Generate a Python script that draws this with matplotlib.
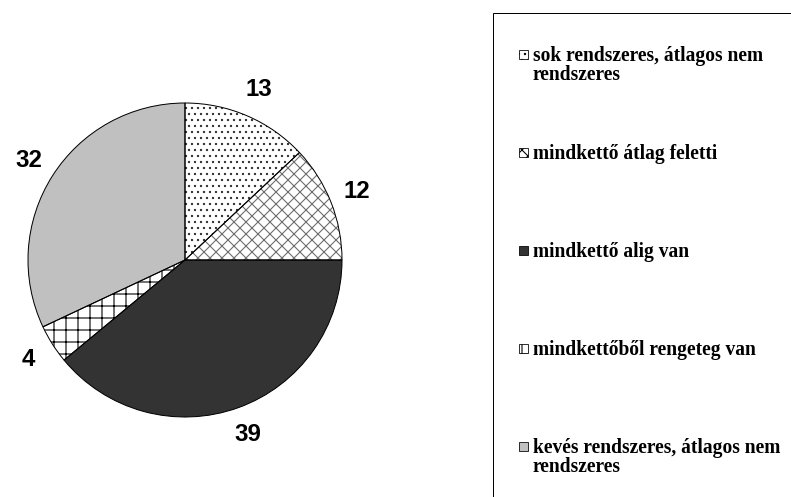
import matplotlib
matplotlib.use("Agg")
import matplotlib.pyplot as plt
from matplotlib.patches import Rectangle

# data
values = [13, 12, 39, 4, 32]
labels = ["sok rendszeres, átlagos nem\nrendszeres",
          "mindkettő átlag feletti",
          "mindkettő alig van",
          "mindkettőből rengeteg van",
          "kevés rendszeres, átlagos nem\nrendszeres"]
fills = ["white", "white", "#333333", "white", "#c0c0c0"]
hatches = ["..", "xx", "", "+", ""]
hatch_cols = ["#303030", "#6e6e6e", "#333333", "black", "#c0c0c0"]

W, H = 791, 497
DPI = 72
plt.rcParams['hatch.linewidth'] = 1.1

fig = plt.figure(figsize=(W / DPI, H / DPI), dpi=DPI)
fig.patch.set_facecolor("white")

# pie area in pixels: center (185, 260), radius 157
cx, cy, r = 185, 260, 157
ax = fig.add_axes([(cx - r) / W, (H - cy - r) / H, 2 * r / W, 2 * r / H])

wedges, texts = ax.pie(values, labels=[str(v) for v in values], colors=fills,
                       startangle=90, counterclock=False, labeldistance=1.18,
                       wedgeprops=dict(linewidth=0),
                       textprops=dict(fontsize=24, fontweight="bold",
                                      family="Liberation Sans"))
for w, h, hc in zip(wedges, hatches, hatch_cols):
    w.set_edgecolor(hc)
    w.set_linewidth(0)
    if h:
        w.set_hatch(h)
for t in texts:
    t.set_ha("center")
    t.set_va("center")

# outlines on top
ax.pie(values, startangle=90, counterclock=False,
       wedgeprops=dict(fill=False, edgecolor="black", linewidth=1))
ax.set_xlim(-1, 1)
ax.set_ylim(-1, 1)
ax.axis("off")

# legend box (runs off the right and bottom edge)
fig.add_artist(Rectangle((493 / W, -0.1), 0.6, (H - 13) / H + 0.1,
                         transform=fig.transFigure, fill=False,
                         edgecolor="black", linewidth=1, clip_on=False))

first_y = 54
step = 98
line_h = 19
for i, lab in enumerate(labels):
    ym = first_y + i * step
    fig.add_artist(Rectangle((519 / W, (H - ym - 4.5) / H), 9 / W, 9 / H,
                             transform=fig.transFigure, facecolor=fills[i],
                             edgecolor="black", linewidth=0.8,
                             hatch=hatches[i] if hatches[i] else None))
    for j, line in enumerate(lab.split("\n")):
        fig.text(533 / W, (H - (ym + 7 + j * line_h)) / H, line,
                 fontsize=19.5, fontweight="bold", family="Liberation Serif",
                 ha="left", va="baseline")

fig.savefig("out.png", dpi=DPI, facecolor="white")
